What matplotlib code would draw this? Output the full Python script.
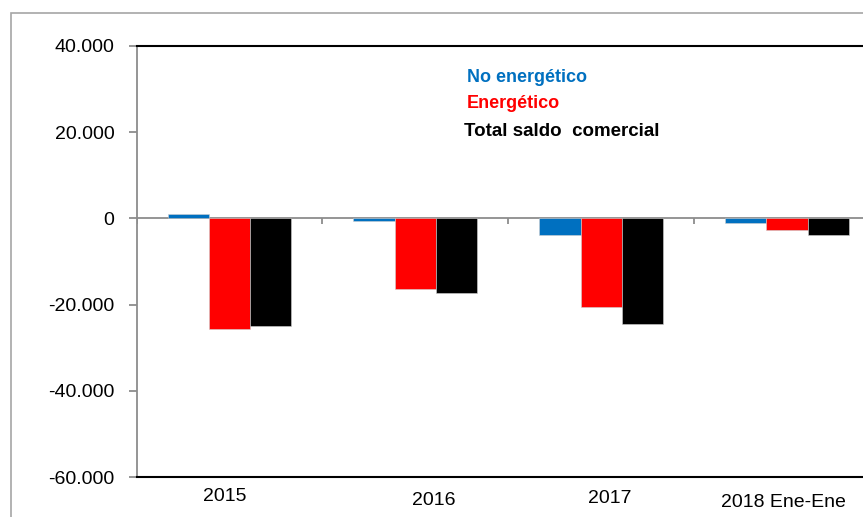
import matplotlib
matplotlib.use("Agg")
import matplotlib.pyplot as plt
import matplotlib.transforms as mtransforms
from matplotlib.patches import Rectangle
from matplotlib.ticker import FuncFormatter
import numpy as np

categories = ["2015", "2016", "2017", "2018 Ene-Ene"]
no_energetico = [1000, -600, -3800, -1000]
energetico = [-25700, -16400, -20500, -2650]
total = [-25000, -17200, -24600, -3800]
series_names = ["No energético", "Energético", "Total saldo  comercial"]
colors = ["#0070C0", "#FF0000", "#000000"]
y_ticks = [40000, 20000, 0, -20000, -40000, -60000]

plt.rcParams['font.family'] = ['Liberation Sans', 'DejaVu Sans']

W, H = 863, 517
fig = plt.figure(figsize=(W / 100, H / 100), dpi=100)

# outer border
fig.patches.append(Rectangle((11 / W, -0.2), 1.5, 1.2 - 13 / H, transform=fig.transFigure,
                             fill=False, edgecolor="#A6A6A6", linewidth=1.2, zorder=0))

left_px, right_px, top_px, bot_px = 136.5, 880, 46, 477
ax = fig.add_axes([left_px / W, 1 - bot_px / H, (right_px - left_px) / W, (bot_px - top_px) / H])
ax.set_facecolor("none")

x = np.arange(len(categories))
bw = 0.222
for i, (vals, c) in enumerate(zip([no_energetico, energetico, total], colors)):
    ax.bar(x + (i - 1) * bw, vals, width=bw, color=c, edgecolor="#D0D0D0", linewidth=0.4, zorder=3)

ax.set_xlim(-0.5, len(categories) - 0.5)
ax.set_ylim(-60000, 40000)

# zero axis line and category boundary ticks
ax.axhline(0, color="#8C8C8C", linewidth=1.3, zorder=2)
bounds = np.arange(len(categories) + 1) - 0.5
ax.vlines(bounds, -1300, 0, color="#8C8C8C", linewidth=1.3, zorder=2)

ax.spines["right"].set_visible(False)
ax.spines["top"].set_color("black")
ax.spines["top"].set_linewidth(1.5)
ax.spines["bottom"].set_color("black")
ax.spines["bottom"].set_linewidth(1.5)
ax.spines["left"].set_color("#8C8C8C")
ax.spines["left"].set_linewidth(1.3)

ax.set_yticks(y_ticks)
ax.yaxis.set_major_formatter(FuncFormatter(lambda v, p: f"{int(v):,}".replace(",", ".")))
ax.tick_params(axis="y", direction="out", length=6, width=1.3, color="#8C8C8C",
               labelsize=14, pad=10)

ax.set_xticks(x)
ax.set_xticklabels(categories)
ax.tick_params(axis="x", length=0, labelsize=14, pad=8)
offsets = [(-5, 0), (18, -4), (9, -2), (-4, -6)]
for lbl, (dx, dy) in zip(ax.get_xticklabels(), offsets):
    lbl.set_transform(lbl.get_transform() + mtransforms.ScaledTranslation(dx / 100, dy / 100, fig.dpi_scale_trans))

# legend text
legend_pos = [(467, 77), (467, 103), (464, 132)]
legend_sizes = [13, 13, 13.5]
for name, c, (px, py), fs in zip(series_names, colors, legend_pos, legend_sizes):
    fig.text(px / W, 1 - py / H, name, color=c, fontsize=fs, fontweight="bold",
             ha="left", va="center")

fig.savefig("out.png", dpi=100)
